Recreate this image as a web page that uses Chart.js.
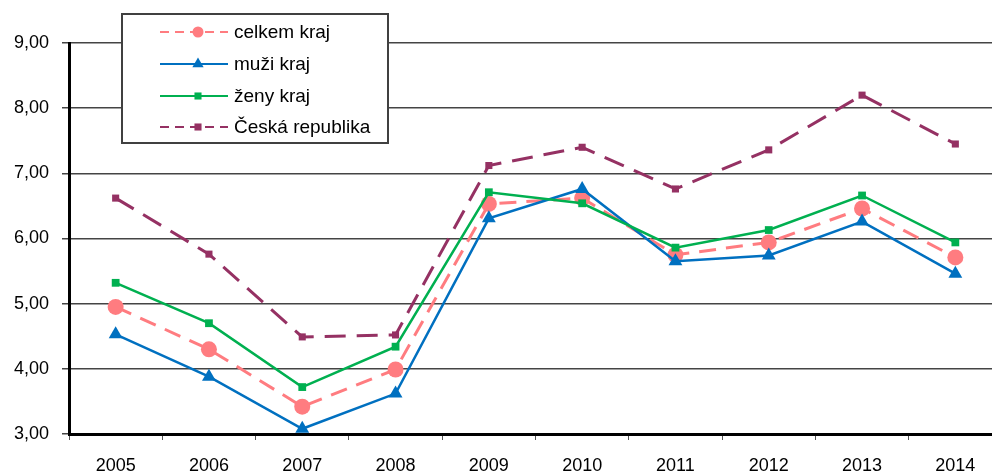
<!DOCTYPE html>
<html>
<head>
<meta charset="utf-8">
<script src="https://cdn.jsdelivr.net/npm/chart.js@4/dist/chart.umd.min.js"></script>
<style>
	html, body { margin: 0; padding: 0; background: #fff; overflow: hidden; }
	#wrap { width: 992px; height: 473px; overflow: hidden; }
</style>
</head>
<body>
<div id="wrap"><canvas id="chart" width="1010" height="473"></canvas></div>
<script>
// roky
const years = ['2005', '2006', '2007', '2008', '2009', '2010', '2011', '2012', '2013', '2014'];

// hodnoty
const celkemKraj = [4.95, 4.30, 3.42, 3.99, 6.53, 6.62, 5.75, 5.94, 6.46, 5.71];
const muziKraj = [4.53, 3.88, 3.08, 3.62, 6.31, 6.76, 5.65, 5.74, 6.26, 5.46];
const zenyKraj = [5.32, 4.70, 3.72, 4.34, 6.71, 6.54, 5.86, 6.13, 6.66, 5.94];
const ceskaRepublika = [6.62, 5.76, 4.49, 4.52, 7.12, 7.40, 6.76, 7.36, 8.20, 7.45];

const yTicks = [3, 4, 5, 6, 7, 8, 9];

const FONT = 'Arial, "Liberation Sans", sans-serif';

// legenda v rámečku uvnitř grafu
const boxLegend = {
	id: 'boxLegend',
	afterDraw(chart) {
		const ctx = chart.ctx;
		const x0 = 122, y0 = 14, w = 266, h = 129;
		ctx.save();
		ctx.fillStyle = '#fff';
		ctx.fillRect(x0, y0, w, h);
		ctx.strokeStyle = '#404040';
		ctx.lineWidth = 2;
		ctx.strokeRect(x0, y0, w, h);

		const rows = [32, 64, 96, 127];
		const legendRadius = [5.5, 6.5, 5, 5];
		chart.data.datasets.forEach((ds, i) => {
			const y = rows[i];
			ctx.strokeStyle = ds.borderColor;
			ctx.lineWidth = 2;
			ctx.setLineDash(ds.borderDash ? [9, 6] : []);
			ctx.beginPath();
			ctx.moveTo(160, y);
			ctx.lineTo(228, y);
			ctx.stroke();
			ctx.setLineDash([]);
			ctx.fillStyle = ds.pointBackgroundColor;
			ctx.strokeStyle = ds.pointBackgroundColor;
			Chart.helpers.drawPoint(ctx, {
				pointStyle: ds.pointStyle,
				rotation: 0,
				radius: legendRadius[i],
				borderWidth: 0
			}, 198, y);

			ctx.fillStyle = '#000';
			ctx.font = '19px ' + FONT;
			ctx.textBaseline = 'middle';
			ctx.textAlign = 'left';
			ctx.fillText(ds.label, 234, y + 1);
		});
		ctx.restore();
	}
};

const ctx = document.getElementById('chart').getContext('2d');

new Chart(ctx, {
	type: 'line',
	data: {
		labels: years,
		datasets: [
			{
				label: 'celkem kraj',
				data: celkemKraj,
				borderColor: '#FF7C80',
				backgroundColor: '#FF7C80',
				pointBackgroundColor: '#FF7C80',
				borderWidth: 3,
				borderDash: [17, 10],
				pointStyle: 'circle',
				pointRadius: 8,
				pointBorderWidth: 0,
				order: 4,
				clip: false
			},
			{
				label: 'muži kraj',
				data: muziKraj,
				borderColor: '#0070C0',
				backgroundColor: '#0070C0',
				pointBackgroundColor: '#0070C0',
				borderWidth: 2.5,
				pointStyle: 'triangle',
				pointRadius: 8,
				pointBorderWidth: 0,
				order: 3,
				clip: false
			},
			{
				label: 'ženy kraj',
				data: zenyKraj,
				borderColor: '#00B050',
				backgroundColor: '#00B050',
				pointBackgroundColor: '#00B050',
				borderWidth: 2.5,
				pointStyle: 'rect',
				pointRadius: 5.5,
				pointBorderWidth: 0,
				order: 2,
				clip: false
			},
			{
				label: 'Česká republika',
				data: ceskaRepublika,
				borderColor: '#953163',
				backgroundColor: '#953163',
				pointBackgroundColor: '#953163',
				borderWidth: 3,
				borderDash: [21, 11],
				pointStyle: 'rect',
				pointRadius: 5,
				pointBorderWidth: 0,
				order: 1,
				clip: false
			}
		]
	},
	options: {
		responsive: false,
		animation: false,
		events: [],
		layout: {
			padding: { top: 43, right: 4, left: 0, bottom: 0 }
		},
		elements: {
			line: { tension: 0 }
		},
		plugins: {
			legend: { display: false },
			tooltip: { enabled: false }
		},
		scales: {
			x: {
				offset: true,
				afterFit: (scale) => { scale.height = 39; },
				grid: {
					offset: true,
					drawOnChartArea: false,
					drawTicks: true,
					tickLength: 6,
					color: '#555',
					lineWidth: 1
				},
				border: { color: '#000', width: 3 },
				ticks: {
					color: '#000',
					font: { family: FONT, size: 18 },
					padding: 15,
					maxRotation: 0,
					autoSkip: false
				}
			},
			y: {
				min: yTicks[0],
				max: yTicks[yTicks.length - 1],
				afterFit: (scale) => { scale.width = 69; },
				afterBuildTicks: (scale) => {
					scale.ticks = yTicks.map(v => ({ value: v }));
				},
				grid: {
					color: '#444',
					lineWidth: 1.5,
					tickLength: 7,
					drawTicks: true
				},
				border: { color: '#000', width: 3 },
				ticks: {
					color: '#000',
					font: { family: FONT, size: 18 },
					padding: 13,
					callback: (v) => Number(v).toFixed(2).replace('.', ',')
				}
			}
		}
	},
	plugins: [boxLegend]
});
</script>
</body>
</html>
